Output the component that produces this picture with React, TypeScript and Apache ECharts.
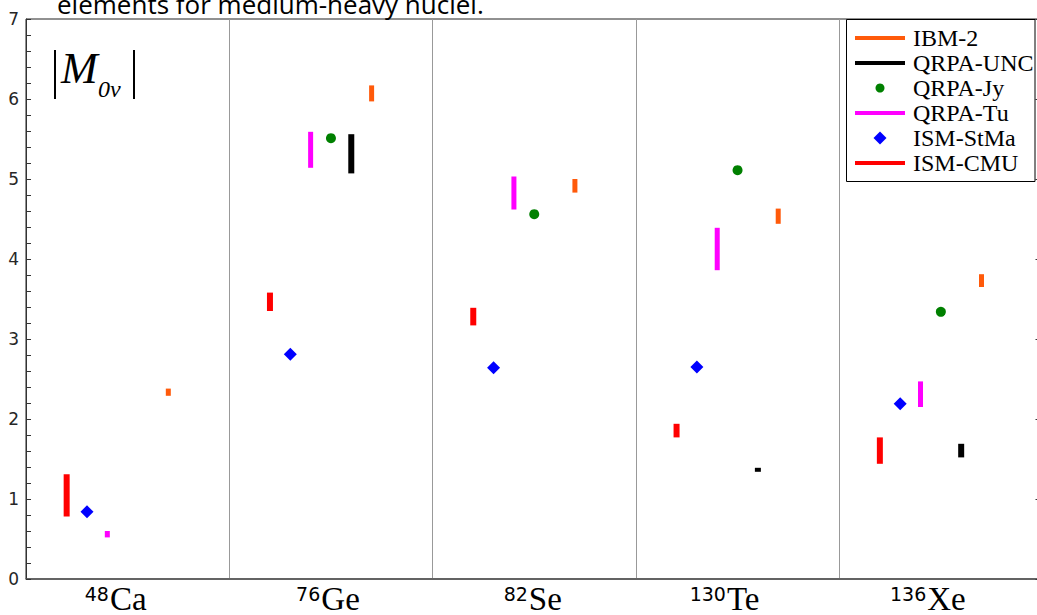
import React, { useEffect, useRef } from 'react';
import * as echarts from 'echarts';

// ---- data ----
const massNumbers = ['48', '76', '82', '130', '136'];
const elements = ['Ca', 'Ge', 'Se', 'Te', 'Xe'];
const yTickValues = [0, 1, 2, 3, 4, 5, 6, 7];
const models = ['IBM-2', 'QRPA-UNC', 'QRPA-Jy', 'QRPA-Tu', 'ISM-StMa', 'ISM-CMU'];

const ibm2Low = [2.29, 5.97, 4.83, 4.44, 3.65];
const ibm2High = [2.38, 6.17, 5.0, 4.63, 3.81];
const uncLow: (number | null)[] = [null, 5.07, null, 1.34, 1.52];
const uncHigh: (number | null)[] = [null, 5.56, null, 1.39, 1.69];
const jyValues: (number | null)[] = [null, 5.51, 4.56, 5.11, 3.34];
const tuLow = [0.52, 5.14, 4.62, 3.86, 2.15];
const tuHigh = [0.60, 5.59, 5.03, 4.39, 2.47];
const stmaValues = [0.84, 2.81, 2.64, 2.65, 2.19];
const cmuLow = [0.78, 3.35, 3.17, 1.77, 1.44];
const cmuHigh = [1.31, 3.58, 3.39, 1.94, 1.77];

// ---- layout/style ----
const labelPad = [24, 6, 3, 26, 26];
const modelOffset: Record<string, number> = {
  'IBM-2': 0.2,
  'QRPA-UNC': 0.1,
  'QRPA-Jy': 0,
  'QRPA-Tu': -0.1,
  'ISM-StMa': -0.2,
  'ISM-CMU': -0.3,
};
const modelColor: Record<string, string> = {
  'IBM-2': '#ff5a0a',
  'QRPA-UNC': '#000000',
  'QRPA-Jy': '#008000',
  'QRPA-Tu': '#ff00ff',
  'ISM-StMa': '#0000ff',
  'ISM-CMU': '#ff0000',
};
const barWidth: Record<string, number> = {
  'IBM-2': 5,
  'QRPA-UNC': 6,
  'QRPA-Tu': 5,
  'ISM-CMU': 6,
};

function rangeData(name: string, lows: (number | null)[], highs: (number | null)[]) {
  const out: number[][] = [];
  lows.forEach((lo, i) => {
    const hi = highs[i];
    if (lo == null || hi == null) return;
    out.push([i + 0.5 + modelOffset[name], lo, hi]);
  });
  return out;
}
function pointData(name: string, vals: (number | null)[]) {
  const out: number[][] = [];
  vals.forEach((v, i) => {
    if (v == null) return;
    out.push([i + 0.5 + modelOffset[name], v]);
  });
  return out;
}

function rangeSeries(name: string, lows: (number | null)[], highs: (number | null)[]) {
  const w = barWidth[name];
  const color = modelColor[name];
  return {
    type: 'custom',
    name,
    xAxisIndex: 1,
    yAxisIndex: 0,
    encode: { x: 0, y: [1, 2] },
    data: rangeData(name, lows, highs),
    renderItem: (params: any, api: any) => {
      const x = api.value(0);
      const top = api.coord([x, api.value(2)]);
      const bot = api.coord([x, api.value(1)]);
      return {
        type: 'rect',
        shape: { x: top[0] - w / 2, y: top[1], width: w, height: bot[1] - top[1] },
        style: { fill: color },
      };
    },
  };
}

const legendTop = 38;
const legendStep = 25;

function legendGraphics() {
  const els: any[] = [
    {
      type: 'rect',
      shape: { x: 846.5, y: 19.5, width: 188.5, height: 162 },
      style: { fill: '#fff', stroke: '#000', lineWidth: 1 },
      z: 100,
    },
  ];
  models.forEach((m, k) => {
    const y = legendTop + k * legendStep;
    const c = modelColor[m];
    if (m === 'QRPA-Jy') {
      els.push({ type: 'circle', shape: { cx: 880, cy: y, r: 4.5 }, style: { fill: c }, z: 101 });
    } else if (m === 'ISM-StMa') {
      els.push({
        type: 'polygon',
        shape: { points: [[880, y - 6.5], [886.5, y], [880, y + 6.5], [873.5, y]] },
        style: { fill: c },
        z: 101,
      });
    } else {
      els.push({ type: 'rect', shape: { x: 855, y: y - 2, width: 50, height: 4 }, style: { fill: c }, z: 101 });
    }
    els.push({
      type: 'text',
      x: 913,
      y: y,
      style: { text: m, font: '24px "Liberation Serif"', fill: '#000', verticalAlign: 'middle', align: 'left' },
      z: 101,
    });
  });
  return els;
}

const richLabel: any = {
  sup: { fontSize: 19, fontFamily: 'DejaVu Sans', color: '#000', lineHeight: 16, padding: [0, 1, 10, 0] },
  el: { fontSize: 33, fontFamily: 'Liberation Serif', color: '#000', lineHeight: 27 },
};
labelPad.forEach((p, i) => {
  richLabel['pad' + i] = { width: p, lineHeight: 10 };
});

export default function App() {
  const ref = useRef<HTMLDivElement>(null);
  useEffect(() => {
    if (!ref.current) return;
    const chart = echarts.init(ref.current, undefined, { renderer: 'svg' });
    const option: any = {
      animation: false,
      backgroundColor: '#fff',
      grid: {
        left: 26,
        top: 19,
        right: -5.5,
        bottom: 36,
        containLabel: false,
        outerBoundsMode: 'none',
        show: true,
        borderColor: '#222',
        borderWidth: 1,
      },
      xAxis: [
        {
          type: 'category',
          data: elements.map((e, i) => massNumbers[i] + e),
          boundaryGap: true,
          axisLine: { show: true, lineStyle: { color: '#555', width: 1.5 } },
          axisTick: { show: false },
          splitLine: { show: true, lineStyle: { color: '#999', width: 1 } },
          axisLabel: {
            margin: 6,
            interval: 0,
            formatter: (_v: string, i: number) => `{sup|${massNumbers[i]}}{el|${elements[i]}}{pad${i}|}`,
            rich: richLabel,
          },
        },
        { type: 'value', min: 0, max: 5, show: false },
      ],
      yAxis: [
        {
          type: 'value',
          min: yTickValues[0],
          max: yTickValues[yTickValues.length - 1],
          interval: 1,
          position: 'left',
          axisLine: { show: true, lineStyle: { color: '#333', width: 1 } },
          axisTick: { show: true, inside: true, length: 5, lineStyle: { color: '#333' } },
          minorTick: { show: true, splitNumber: 5, length: 5, lineStyle: { color: '#333' } },
          splitLine: { show: false },
          axisLabel: { fontSize: 17, fontFamily: 'DejaVu Sans', color: '#262626', margin: 7 },
        },
        {
          type: 'value',
          min: 0,
          max: 7,
          interval: 1,
          position: 'right',
          axisLine: { show: true, lineStyle: { color: '#333' } },
          axisTick: { show: true, inside: true, length: 7, lineStyle: { color: '#333' } },
          splitLine: { show: false },
          axisLabel: { show: false },
        },
      ],
      series: [
        rangeSeries('ISM-CMU', cmuLow, cmuHigh),
        {
          type: 'scatter',
          name: 'ISM-StMa',
          xAxisIndex: 1,
          yAxisIndex: 0,
          symbol: 'diamond',
          symbolSize: [13, 13],
          itemStyle: { color: modelColor['ISM-StMa'], opacity: 1 },
          data: pointData('ISM-StMa', stmaValues),
        },
        rangeSeries('QRPA-Tu', tuLow, tuHigh),
        {
          type: 'scatter',
          name: 'QRPA-Jy',
          xAxisIndex: 1,
          yAxisIndex: 0,
          symbol: 'circle',
          symbolSize: 10,
          itemStyle: { color: modelColor['QRPA-Jy'], opacity: 1 },
          data: pointData('QRPA-Jy', jyValues),
        },
        rangeSeries('QRPA-UNC', uncLow, uncHigh),
        rangeSeries('IBM-2', ibm2Low, ibm2High),
      ],
      graphic: [
        {
          type: 'text',
          x: 57,
          y: 3.5,
          style: {
            text: 'elements for medium-heavy nuclei.',
            font: '26px "Open Sans"',
            fill: '#000',
            verticalAlign: 'middle',
            align: 'left',
          },
          z: 50,
        },
        { type: 'line', shape: { x1: 55, y1: 50, x2: 55, y2: 99 }, style: { stroke: '#000', lineWidth: 2 }, z: 50 },
        {
          type: 'text',
          x: 61,
          y: 68,
          style: { text: 'M', font: 'italic 44px "Liberation Serif"', fill: '#000', verticalAlign: 'middle' },
          z: 50,
        },
        {
          type: 'text',
          x: 98,
          y: 89,
          style: { text: '0ν', font: 'italic 24px "Liberation Serif"', fill: '#000', verticalAlign: 'middle' },
          z: 50,
        },
        { type: 'line', shape: { x1: 134, y1: 50, x2: 134, y2: 99 }, style: { stroke: '#000', lineWidth: 2 }, z: 50 },
        ...legendGraphics(),
      ],
    };
    chart.setOption(option);
    return () => chart.dispose();
  }, []);
  return <div ref={ref} style={{ position: 'fixed', left: 0, top: 0, width: 1037, height: 615 }} />;
}
